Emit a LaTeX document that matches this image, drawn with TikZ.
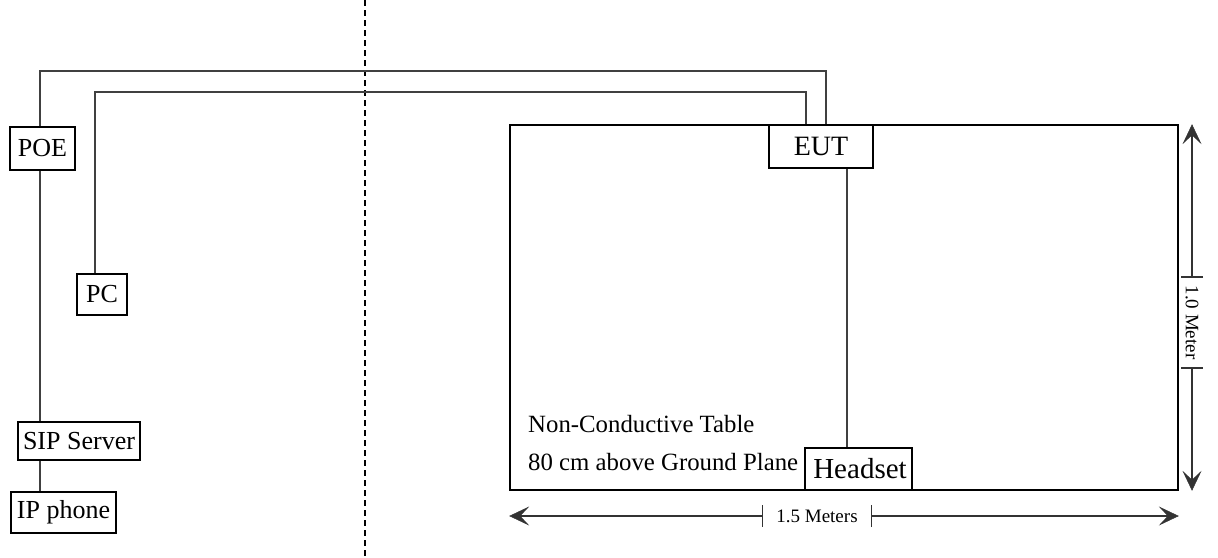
\documentclass[tikz,border=0pt]{standalone}
\usepackage{fontspec}
\setmainfont{Liberation Serif}
\usetikzlibrary{arrows.meta}
\begin{document}
\begin{tikzpicture}[x=1pt,y=-1pt,
  box/.style={draw=black,line width=1.6pt,fill=white,inner sep=0pt,font=\fontsize{26}{28}\selectfont},
  wire/.style={draw=black!75,line width=1.9pt},
  dim/.style={draw=black!80,line width=1.5pt,arrows={Bar[width=22pt,line width=1.5pt]-Stealth[length=20pt,width=19pt,inset=9pt,line width=0.5pt]}},
  dimtxt/.style={inner ysep=0pt,font=\fontsize{19}{21}\selectfont}]
\useasboundingbox (0,0) rectangle (1218,557);
\draw[dashed,line width=1.4pt,dash pattern=on 6pt off 4pt] (365,0) -- (365,557);
% table
\node[draw=black,line width=1.6pt,minimum width=668pt,minimum height=365pt,inner sep=0pt] (table) at (844,307.5) {};
\node[anchor=base west,font=\fontsize{24.8}{26}\selectfont,inner sep=0pt] (t1) at (528,432) {Non-Conductive Table};
\node[anchor=base west,font=\fontsize{24.8}{26}\selectfont,inner sep=0pt] (t2) at (528,470) {80 cm above Ground Plane};
% boxes
\node[box,minimum width=65pt,minimum height=43pt] (POE) at (42.5,148.5) {POE};
\node[box,minimum width=50pt,minimum height=41pt] (PC) at (102,294.5) {PC};
\node[box,minimum width=122pt,minimum height=38pt] (SIP) at (79,441) {SIP Server};
\node[box,minimum width=105pt,minimum height=41pt] (IP) at (63.5,512.5) {IP phone};
\node[box,minimum width=104pt,minimum height=43pt,font=\fontsize{28}{30}\selectfont] (EUT) at (821,146.5) {EUT};
\node[box,minimum width=107pt,minimum height=42pt,font=\fontsize{29}{31}\selectfont] (HS) at (858.5,469) {\hspace*{3pt}Headset};
% wires
\draw[wire] ([xshift=-2.5pt]POE.north) |- ([xshift=5pt,yshift=53pt]EUT.north) -- ([xshift=5pt]EUT.north);
\draw[wire] ([xshift=-7pt]PC.north) |- ([xshift=-15pt,yshift=32pt]EUT.north) -- ([xshift=-15pt]EUT.north);
\draw[wire] ([xshift=-2.5pt]POE.south) -- ([xshift=-2.5pt]POE.south |- SIP.north);
\draw[wire] ([xshift=-39pt]SIP.south) -- ([xshift=-39pt]SIP.south |- IP.north);
\draw[wire] ([xshift=26pt]EUT.south) -- ([xshift=26pt]EUT.south |- HS.north);
% dimensions
\node[dimtxt,inner xsep=13pt] (dh) at (817,516) {1.5 Meters};
\coordinate (hl) at (table.south west |- dh);
\coordinate (hr) at (table.south east |- dh);
\draw[dim] (dh.west) -- (hl);
\draw[dim] (dh.east) -- (hr);
\node[dimtxt,inner xsep=7.5pt,rotate=-90] (dv) at (1192,322.5) {1.0 Meter};
\coordinate (vt) at (dv |- table.north east);
\coordinate (vb) at (dv |- table.south east);
\draw[dim] (dv.west) -- (vt);
\draw[dim] (dv.east) -- (vb);
\end{tikzpicture}
\end{document}
